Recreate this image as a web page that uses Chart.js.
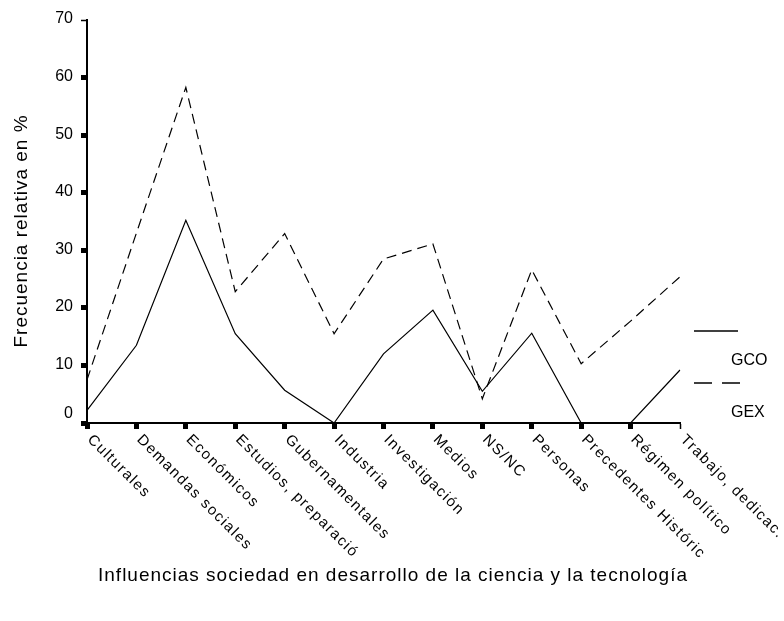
<!DOCTYPE html>
<html>
<head>
<meta charset="utf-8">
<script src="https://cdn.jsdelivr.net/npm/chart.js@4/dist/chart.umd.min.js"></script>
<style>
  html, body { margin: 0; padding: 0; background: #fff; }
  #wrap { width: 784px; height: 621px; position: relative; }
</style>
</head>
<body>
<div id="wrap"><canvas id="influChart"></canvas></div>
<script>
const categories = ['Culturales', 'Demandas sociales', 'Económicos', 'Estudios, preparació',
  'Gubernamentales', 'Industria', 'Investigación', 'Medios', 'NS/NC', 'Personas',
  'Precedentes Históric', 'Régimen político', 'Trabajo, dedicac.'];
const gcoValues = [2.2, 13.5, 35.2, 15.5, 5.7, 0, 12, 19.6, 5.5, 15.6, 0, 0, 9.2];
const gexValues = [7.5, 33, 58.3, 22.8, 32.9, 15.5, 28.5, 31.1, 4.2, 26.6, 10.3, 17.7, 25.4];
const yTicks = [0, 10, 20, 30, 40, 50, 60, 70];

const FONT = "'Liberation Sans', Arial, sans-serif";

// titles, tick labels and the odd little legend
const extrasPlugin = {
  id: 'extras',
  afterDraw(chart) {
    const ctx = chart.ctx;
    const xs = chart.scales.x;
    const ys = chart.scales.y;
    ctx.save();
    ctx.fillStyle = '#000';

    // y tick labels (the 0 sits a bit higher in the original)
    ctx.font = '16px ' + FONT;
    ctx.textAlign = 'right';
    ctx.textBaseline = 'middle';
    yTicks.forEach(function(v) {
      const py = ys.getPixelForValue(v) - (v === 0 ? 9 : 1);
      ctx.fillText(String(v), 73, py);
    });

    // rotated category labels
    ctx.font = '15px ' + FONT;
    ctx.letterSpacing = '1.5px';
    ctx.textAlign = 'left';
    ctx.textBaseline = 'top';
    categories.forEach(function(label, i) {
      const px = xs.getPixelForValue(i);
      ctx.save();
      ctx.translate(px + 8, xs.top + 9);
      ctx.rotate(Math.PI / 4);
      ctx.fillText(label, 0, 0);
      ctx.restore();
    });

    // axis titles
    ctx.font = '19px ' + FONT;
    ctx.letterSpacing = '1px';
    ctx.textAlign = 'center';
    ctx.textBaseline = 'middle';
    ctx.fillText('Influencias sociedad en desarrollo de la ciencia y la tecnología', 393, 576);
    ctx.save();
    ctx.translate(22, 231);
    ctx.rotate(-Math.PI / 2);
    ctx.fillText('Frecuencia relativa en %', 0, 0);
    ctx.restore();

    // legend
    ctx.letterSpacing = '0px';
    ctx.strokeStyle = '#000';
    ctx.lineWidth = 1.5;
    ctx.beginPath();
    ctx.moveTo(694, 331);
    ctx.lineTo(738, 331);
    ctx.stroke();
    ctx.setLineDash([18, 10]);
    ctx.beginPath();
    ctx.moveTo(694, 383);
    ctx.lineTo(740, 383);
    ctx.stroke();
    ctx.setLineDash([]);
    ctx.font = '16px ' + FONT;
    ctx.textAlign = 'left';
    ctx.fillText('GCO', 731, 361);
    ctx.fillText('GEX', 731, 413);
    ctx.restore();
  }
};

const ctx = document.getElementById('influChart').getContext('2d');
const influChart = new Chart(ctx, {
  type: 'line',
  data: {
    labels: categories,
    datasets: [{
      label: 'GCO',
      data: gcoValues,
      borderColor: '#000',
      borderWidth: 1.2,
      pointRadius: 0,
      tension: 0,
      fill: false
    }, {
      label: 'GEX',
      data: gexValues,
      borderColor: '#000',
      borderWidth: 1.2,
      borderDash: [10, 6],
      pointRadius: 0,
      tension: 0,
      fill: false
    }]
  },
  options: {
    responsive: true,
    maintainAspectRatio: false,
    animation: false,
    layout: {
      padding: { top: 20, right: 104, left: 0, bottom: 0 }
    },
    plugins: {
      legend: { display: false },
      tooltip: { enabled: false }
    },
    scales: {
      x: {
        offset: false,
        border: { color: '#000', width: 2 },
        grid: {
          drawOnChartArea: false,
          tickLength: 6,
          tickColor: '#000',
          tickWidth: function(c) {
            return c.index === categories.length - 1 ? 1.5 : 5;
          }
        },
        ticks: { display: false },
        afterFit: function(scale) { scale.height = 198; }
      },
      y: {
        min: 0,
        max: 70,
        border: { color: '#000', width: 2 },
        afterBuildTicks: function(scale) {
          scale.ticks = yTicks.map(function(v) { return { value: v }; });
        },
        grid: {
          drawOnChartArea: false,
          tickLength: 6,
          tickColor: '#000',
          tickWidth: function(c) {
            return c.tick && c.tick.value === 70 ? 1.5 : 5;
          }
        },
        ticks: { display: false },
        afterFit: function(scale) { scale.width = 87; }
      }
    }
  },
  plugins: [extrasPlugin]
});
</script>
</body>
</html>
